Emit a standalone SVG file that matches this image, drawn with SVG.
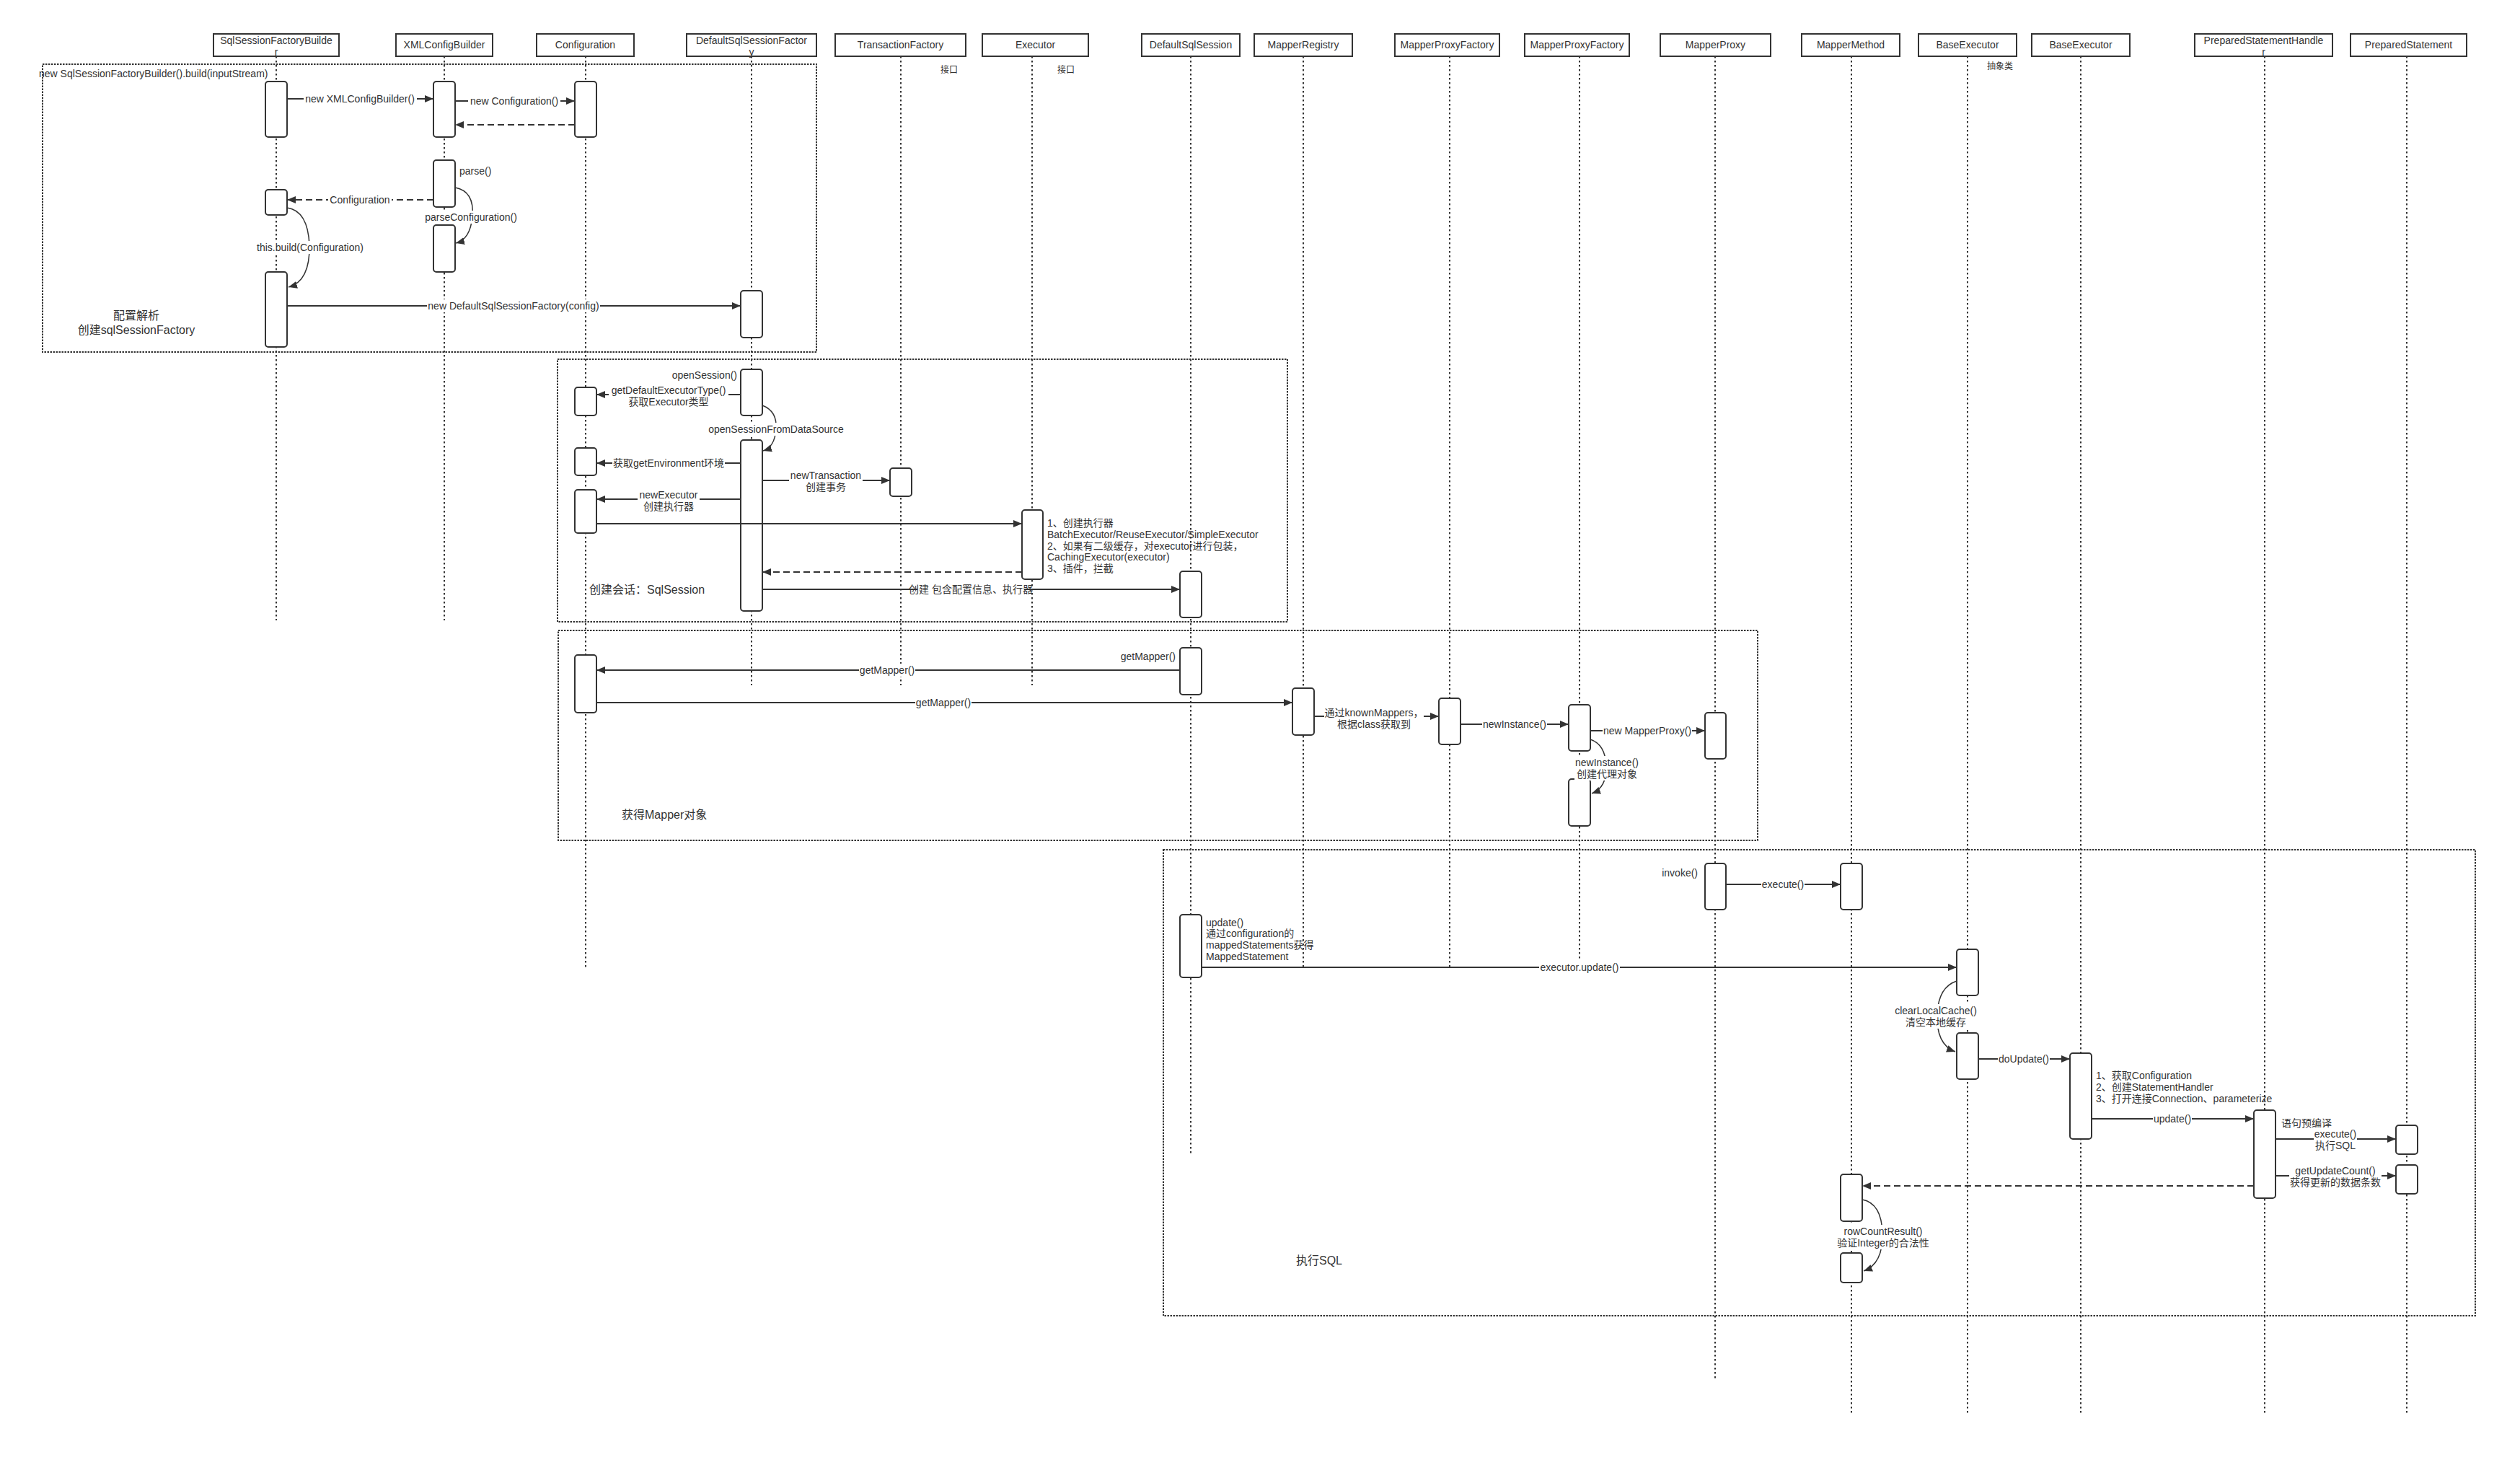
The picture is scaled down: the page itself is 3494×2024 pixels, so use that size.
<svg xmlns="http://www.w3.org/2000/svg" width="3494" height="2024" viewBox="0 0 3494 2024">
<defs>
<style>
text{font-family:"Liberation Sans","Noto Sans CJK SC",sans-serif;font-size:14px;fill:#333}
.c{text-anchor:middle}
.big{font-size:16px}
.sm{font-size:12px}
.hdr{fill:#fff;stroke:#333;stroke-width:2}
.life{stroke:#333;stroke-width:2;stroke-dasharray:2.5 3.5;fill:none}
.frm{fill:none;stroke:#333;stroke-width:2;stroke-dasharray:2.5 1.5}
.act{fill:#fff;stroke:#333;stroke-width:2}
.msg{stroke:#333;stroke-width:2;fill:none;marker-end:url(#ah)}
.ret{stroke:#333;stroke-width:2;fill:none;stroke-dasharray:9 5;marker-end:url(#ah)}
.self{stroke:#333;stroke-width:1.5;fill:none;marker-end:url(#ah)}
.bg{fill:#fff}
</style>
<marker id="ah" markerWidth="12" markerHeight="10" refX="12" refY="5" orient="auto" markerUnits="userSpaceOnUse"><path d="M0,0 L12,5 L0,10 z" fill="#333"/></marker>
</defs>
<rect width="3494" height="2024" fill="#fff"/>

<g id="frames">
<rect class="frm" x="59" y="89" width="1073" height="399"/>
<rect class="frm" x="773" y="498" width="1012" height="364"/>
<rect class="frm" x="774" y="874" width="1663" height="291"/>
<rect class="frm" x="1613" y="1178" width="1819" height="646"/>
<text x="54" y="107">new SqlSessionFactoryBuilder().build(inputStream)</text>
<text class="c big" x="189" y="443">配置解析</text>
<text class="c big" x="189" y="463">创建sqlSessionFactory</text>
<text class="big" x="817" y="823">创建会话：SqlSession</text>
<text class="big" x="862" y="1135">获得Mapper对象</text>
<text class="big" x="1797" y="1753">执行SQL</text>
</g>

<g id="SqlSessionFactoryBuilder">
<line class="life" x1="383" y1="78" x2="383" y2="860"/>
<rect class="hdr" x="296" y="47" width="174" height="31"/>
<text class="c" x="383" y="61">SqlSessionFactoryBuilde</text>
<text class="c" x="383" y="77">r</text>
<rect class="act" x="368" y="113" width="30" height="77" rx="4"/>
<rect class="act" x="368" y="263" width="30" height="35" rx="4"/>
<rect class="act" x="368" y="377" width="30" height="104" rx="4"/>
</g>

<g id="XMLConfigBuilder">
<line class="life" x1="616" y1="78" x2="616" y2="860"/>
<rect class="hdr" x="549" y="47" width="134" height="31"/>
<text class="c" x="616" y="67">XMLConfigBuilder</text>
<rect class="act" x="601" y="113" width="30" height="77" rx="4"/>
<rect class="act" x="601" y="222" width="30" height="65" rx="4"/>
<rect class="act" x="601" y="312" width="30" height="65" rx="4"/>
</g>

<g id="Configuration">
<line class="life" x1="812" y1="78" x2="812" y2="1344"/>
<rect class="hdr" x="744" y="47" width="135" height="31"/>
<text class="c" x="811.5" y="67">Configuration</text>
<rect class="act" x="797" y="113" width="30" height="77" rx="4"/>
<rect class="act" x="797" y="537" width="30" height="39" rx="4"/>
<rect class="act" x="797" y="621" width="30" height="38" rx="4"/>
<rect class="act" x="797" y="679" width="30" height="60" rx="4"/>
<rect class="act" x="797" y="908" width="30" height="80" rx="4"/>
</g>

<g id="DefaultSqlSessionFactory">
<line class="life" x1="1042" y1="78" x2="1042" y2="950"/>
<rect class="hdr" x="952" y="47" width="180" height="31"/>
<text class="c" x="1042" y="61">DefaultSqlSessionFactor</text>
<text class="c" x="1042" y="77">y</text>
<rect class="act" x="1027" y="403" width="30" height="65" rx="4"/>
<rect class="act" x="1027" y="512" width="30" height="64" rx="4"/>
<rect class="act" x="1027" y="610" width="30" height="237" rx="4"/>
</g>

<g id="TransactionFactory">
<line class="life" x1="1249" y1="78" x2="1249" y2="950"/>
<rect class="hdr" x="1158" y="47" width="181" height="31"/>
<text class="c" x="1248.5" y="67">TransactionFactory</text>
<text class="sm" x="1304" y="101">接口</text>
<rect class="act" x="1234" y="649" width="30" height="39" rx="4"/>
</g>

<g id="Executor">
<line class="life" x1="1431" y1="78" x2="1431" y2="950"/>
<rect class="hdr" x="1362" y="47" width="147" height="31"/>
<text class="c" x="1435.5" y="67">Executor</text>
<text class="sm" x="1466" y="101">接口</text>
<rect class="act" x="1417" y="707" width="29" height="96" rx="4"/>
</g>

<g id="DefaultSqlSession">
<line class="life" x1="1651" y1="78" x2="1651" y2="1600"/>
<rect class="hdr" x="1583" y="47" width="136" height="31"/>
<text class="c" x="1651" y="67">DefaultSqlSession</text>
<rect class="act" x="1636" y="792" width="30" height="64" rx="4"/>
<rect class="act" x="1636" y="898" width="30" height="65" rx="4"/>
<rect class="act" x="1636" y="1268" width="30" height="87" rx="4"/>
</g>

<g id="MapperRegistry">
<line class="life" x1="1807" y1="78" x2="1807" y2="1343"/>
<rect class="hdr" x="1739" y="47" width="136" height="31"/>
<text class="c" x="1807" y="67">MapperRegistry</text>
<rect class="act" x="1792" y="954" width="30" height="65" rx="4"/>
</g>

<g id="MapperProxyFactory1">
<line class="life" x1="2010" y1="78" x2="2010" y2="1343"/>
<rect class="hdr" x="1934" y="47" width="145" height="31"/>
<text class="c" x="2006.5" y="67">MapperProxyFactory</text>
<rect class="act" x="1995" y="968" width="30" height="64" rx="4"/>
</g>

<g id="MapperProxyFactory2">
<line class="life" x1="2190" y1="78" x2="2190" y2="1329"/>
<rect class="hdr" x="2114" y="47" width="145" height="31"/>
<text class="c" x="2186.5" y="67">MapperProxyFactory</text>
<rect class="act" x="2175" y="977" width="30" height="64" rx="4"/>
<rect class="act" x="2175" y="1080" width="30" height="65" rx="4"/>
</g>

<g id="MapperProxy">
<line class="life" x1="2378" y1="78" x2="2378" y2="1913"/>
<rect class="hdr" x="2302" y="47" width="153" height="31"/>
<text class="c" x="2378.5" y="67">MapperProxy</text>
<rect class="act" x="2364" y="988" width="29" height="64" rx="4"/>
<rect class="act" x="2364" y="1197" width="29" height="64" rx="4"/>
</g>

<g id="MapperMethod">
<line class="life" x1="2567" y1="78" x2="2567" y2="1960"/>
<rect class="hdr" x="2498" y="47" width="136" height="31"/>
<text class="c" x="2566" y="67">MapperMethod</text>
<rect class="act" x="2552" y="1197" width="30" height="64" rx="4"/>
<rect class="act" x="2552" y="1628" width="30" height="65" rx="4"/>
<rect class="act" x="2552" y="1737" width="30" height="41" rx="4"/>
</g>

<g id="BaseExecutor1">
<line class="life" x1="2728" y1="78" x2="2728" y2="1960"/>
<rect class="hdr" x="2660" y="47" width="136" height="31"/>
<text class="c" x="2728" y="67">BaseExecutor</text>
<text class="sm" x="2755" y="96">抽象类</text>
<rect class="act" x="2713" y="1316" width="30" height="64" rx="4"/>
<rect class="act" x="2713" y="1432" width="30" height="64" rx="4"/>
</g>

<g id="BaseExecutor2">
<line class="life" x1="2885" y1="78" x2="2885" y2="1960"/>
<rect class="hdr" x="2817" y="47" width="136" height="31"/>
<text class="c" x="2885" y="67">BaseExecutor</text>
<rect class="act" x="2870" y="1460" width="30" height="119" rx="4"/>
</g>

<g id="PreparedStatementHandler">
<line class="life" x1="3140" y1="78" x2="3140" y2="1960"/>
<rect class="hdr" x="3043" y="47" width="191" height="31"/>
<text class="c" x="3138.5" y="61">PreparedStatementHandle</text>
<text class="c" x="3138.5" y="77">r</text>
<rect class="act" x="3125" y="1539" width="30" height="122" rx="4"/>
</g>

<g id="PreparedStatement">
<line class="life" x1="3337" y1="78" x2="3337" y2="1960"/>
<rect class="hdr" x="3259" y="47" width="161" height="31"/>
<text class="c" x="3339.5" y="67">PreparedStatement</text>
<rect class="act" x="3322" y="1560" width="30" height="40" rx="4"/>
<rect class="act" x="3322" y="1615" width="30" height="40" rx="4"/>
</g>

<g id="connectors">
<line class="msg" x1="398" y1="137" x2="601" y2="137"/>
<rect class="bg" x="421" y="128" width="157" height="18"/>
<text class="c" x="499" y="142">new XMLConfigBuilder()</text>
<line class="msg" x1="631" y1="140" x2="797" y2="140"/>
<rect class="bg" x="649" y="131" width="128" height="18"/>
<text class="c" x="713" y="145">new Configuration()</text>
<line class="ret" x1="797" y1="173" x2="631" y2="173"/>
<text x="637" y="242">parse()</text>
<path class="self" d="M631,260 Q658,265 655,300 Q652,332 632,337"/>
<rect class="bg" x="588" y="292" width="130" height="18"/>
<text class="c" x="653" y="306">parseConfiguration()</text>
<line class="ret" x1="601" y1="277" x2="398" y2="277"/>
<rect class="bg" x="455" y="268" width="88" height="18"/>
<text class="c" x="499" y="282">Configuration</text>
<path class="self" d="M398,288 Q427,292 429,340 Q430,390 400,398"/>
<rect class="bg" x="355" y="334" width="150" height="18"/>
<text class="c" x="430" y="348">this.build(Configuration)</text>
<line class="msg" x1="398" y1="424" x2="1027" y2="424"/>
<rect class="bg" x="592" y="415" width="240" height="18"/>
<text class="c" x="712" y="429">new DefaultSqlSessionFactory(config)</text>
<text x="1022" y="525" text-anchor="end">openSession()</text>
<line class="msg" x1="1027" y1="547" x2="827" y2="547"/>
<rect class="bg" x="844" y="532" width="166" height="34"/>
<text class="c" x="927" y="546">getDefaultExecutorType()</text>
<text class="c" x="927" y="562">获取Executor类型</text>
<path class="self" d="M1057,562 Q1078,570 1076,595 Q1074,620 1058,625"/>
<rect class="bg" x="981" y="586" width="190" height="18"/>
<text class="c" x="1076" y="600">openSessionFromDataSource</text>
<line class="msg" x1="1027" y1="642" x2="827" y2="642"/>
<rect class="bg" x="849" y="633" width="156" height="18"/>
<text class="c" x="927" y="647">获取getEnvironment环境</text>
<line class="msg" x1="1057" y1="666" x2="1234" y2="666"/>
<rect class="bg" x="1094" y="650" width="102" height="34"/>
<text class="c" x="1145" y="664">newTransaction</text>
<text class="c" x="1145" y="680">创建事务</text>
<line class="msg" x1="1027" y1="692" x2="827" y2="692"/>
<rect class="bg" x="884" y="677" width="86" height="34"/>
<text class="c" x="927" y="691">newExecutor</text>
<text class="c" x="927" y="707">创建执行器</text>
<line class="msg" x1="827" y1="726" x2="1417" y2="726"/>
<text x="1452" y="730">1、创建执行器</text>
<text x="1452" y="746">BatchExecutor/ReuseExecutor/SimpleExecutor</text>
<text x="1452" y="762">2、如果有二级缓存，对executor进行包装，</text>
<text x="1452" y="777">CachingExecutor(executor)</text>
<text x="1452" y="793">3、插件，拦截</text>
<line class="ret" x1="1417" y1="793" x2="1057" y2="793"/>
<line class="msg" x1="1057" y1="817" x2="1636" y2="817"/>
<rect class="bg" x="1272" y="808" width="148" height="18"/>
<text class="c" x="1346" y="822">创建 包含配置信息、执行器</text>
<text x="1630" y="915" text-anchor="end">getMapper()</text>
<line class="msg" x1="1636" y1="929" x2="827" y2="929"/>
<rect class="bg" x="1191" y="920" width="78" height="18"/>
<text class="c" x="1230" y="934">getMapper()</text>
<line class="msg" x1="827" y1="974" x2="1792" y2="974"/>
<rect class="bg" x="1269" y="965" width="78" height="18"/>
<text class="c" x="1308" y="979">getMapper()</text>
<line class="msg" x1="1822" y1="993" x2="1995" y2="993"/>
<rect class="bg" x="1836" y="979" width="138" height="34"/>
<text class="c" x="1905" y="993">通过knownMappers，</text>
<text class="c" x="1905" y="1009">根据class获取到</text>
<line class="msg" x1="2025" y1="1004" x2="2175" y2="1004"/>
<rect class="bg" x="2055" y="995" width="90" height="18"/>
<text class="c" x="2100" y="1009">newInstance()</text>
<line class="msg" x1="2205" y1="1013" x2="2364" y2="1013"/>
<rect class="bg" x="2222" y="1004" width="124" height="18"/>
<text class="c" x="2284" y="1018">new MapperProxy()</text>
<path class="self" d="M2205,1025 Q2226,1032 2227,1062 Q2228,1092 2207,1100"/>
<rect class="bg" x="2183" y="1048" width="90" height="34"/>
<text class="c" x="2228" y="1062">newInstance()</text>
<text class="c" x="2228" y="1078">创建代理对象</text>
<text x="2354" y="1215" text-anchor="end">invoke()</text>
<line class="msg" x1="2393" y1="1226" x2="2552" y2="1226"/>
<rect class="bg" x="2442" y="1217" width="60" height="18"/>
<text class="c" x="2472" y="1231">execute()</text>
<text x="1672" y="1284">update()</text>
<text x="1672" y="1299">通过configuration的</text>
<text x="1672" y="1315">mappedStatements获得</text>
<text x="1672" y="1331">MappedStatement</text>
<line class="msg" x1="1666" y1="1341" x2="2713" y2="1341"/>
<rect class="bg" x="2134" y="1332" width="112" height="18"/>
<text class="c" x="2190" y="1346">executor.update()</text>
<path class="self" d="M2713,1360 Q2688,1368 2686,1405 Q2684,1448 2711,1458"/>
<rect class="bg" x="2626" y="1392" width="116" height="34"/>
<text class="c" x="2684" y="1406">clearLocalCache()</text>
<text class="c" x="2684" y="1422">清空本地缓存</text>
<line class="msg" x1="2743" y1="1468" x2="2870" y2="1468"/>
<rect class="bg" x="2770" y="1459" width="72" height="18"/>
<text class="c" x="2806" y="1473">doUpdate()</text>
<text x="2906" y="1496">1、获取Configuration</text>
<text x="2906" y="1512">2、创建StatementHandler</text>
<text x="2906" y="1528">3、打开连接Connection、parameterize</text>
<line class="msg" x1="2900" y1="1551" x2="3125" y2="1551"/>
<rect class="bg" x="2985" y="1542" width="54" height="18"/>
<text class="c" x="3012" y="1556">update()</text>
<text x="3163" y="1562">语句预编译</text>
<line class="msg" x1="3155" y1="1579" x2="3322" y2="1579"/>
<rect class="bg" x="3208" y="1563" width="60" height="34"/>
<text class="c" x="3238" y="1577">execute()</text>
<text class="c" x="3238" y="1593">执行SQL</text>
<line class="msg" x1="3155" y1="1630" x2="3322" y2="1630"/>
<rect class="bg" x="3174" y="1614" width="128" height="34"/>
<text class="c" x="3238" y="1628">getUpdateCount()</text>
<text class="c" x="3238" y="1644">获得更新的数据条数</text>
<line class="ret" x1="3125" y1="1644" x2="2582" y2="1644"/>
<path class="self" d="M2582,1663 Q2609,1668 2610,1710 Q2611,1752 2584,1762"/>
<rect class="bg" x="2546" y="1698" width="130" height="34"/>
<text class="c" x="2611" y="1712">rowCountResult()</text>
<text class="c" x="2611" y="1728">验证Integer的合法性</text>
</g>
</svg>
